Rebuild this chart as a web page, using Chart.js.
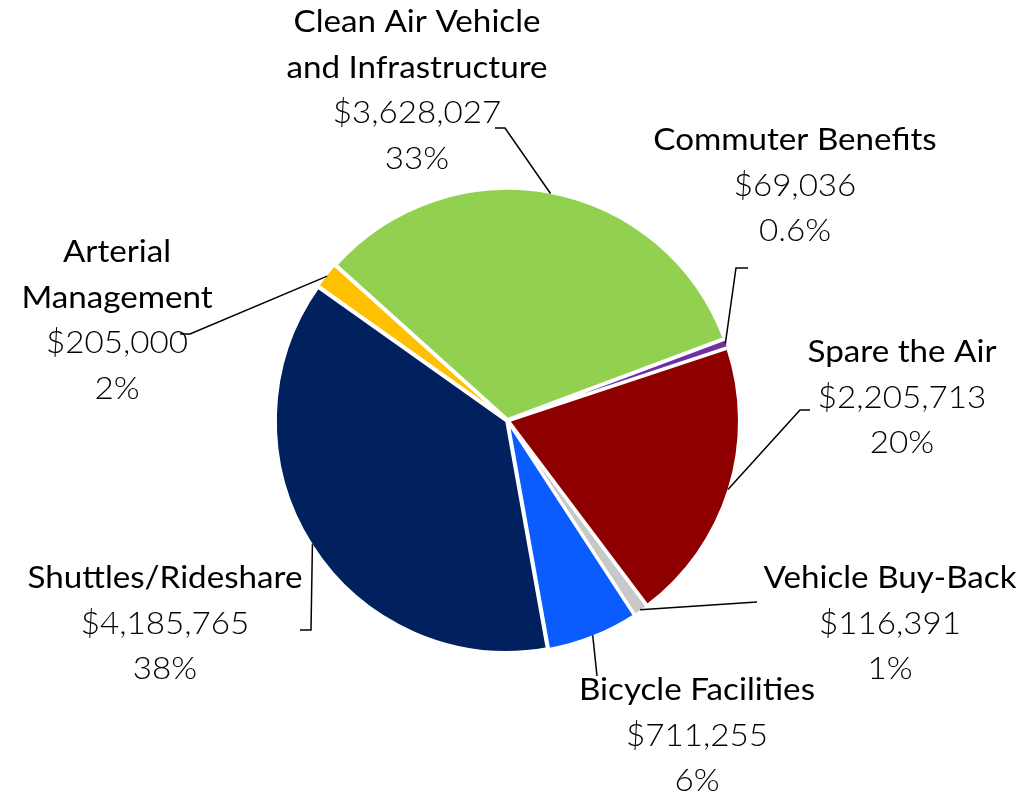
<!DOCTYPE html>
<html>
<head>
<meta charset="utf-8">
<script src="https://cdn.jsdelivr.net/npm/chart.js@4.4.1/dist/chart.umd.min.js"></script>
<style>
  html, body { margin: 0; padding: 0; background: #fff; }
  #wrap { width: 1025px; height: 801px; position: relative; }
</style>
</head>
<body>
<div id="wrap"><canvas id="pie"></canvas></div>
<script>
// data, in drawing order (clockwise, starting with Clean Air)
const labels = [
  ['Clean Air Vehicle', 'and Infrastructure'],
  ['Commuter Benefits'],
  ['Spare the Air'],
  ['Vehicle Buy-Back'],
  ['Bicycle Facilities'],
  ['Shuttles/Rideshare'],
  ['Arterial', 'Management'],
]
const amounts = [3628027, 69036, 2205713, 116391, 711255, 4185765, 205000]
const colors = ['#92D050', '#7030A0', '#8E0000', '#C8C8C8', '#0A5CFF', '#00205E', '#FFC000']

// label layout: text centre x, first line y, leader elbow and tail end
const labelLayout = [
  { x: 417, y: 22,  elbow: [505, 128], tail: [495, 128] },
  { x: 795, y: 140, elbow: [736, 268], tail: [748, 268] },
  { x: 902, y: 352, elbow: [800, 410], tail: [810, 410] },
  { x: 890, y: 578, elbow: [757, 602], tail: [757, 602] },
  { x: 697, y: 690, elbow: [597, 676], tail: [597, 676] },
  { x: 165, y: 578, elbow: [311, 630], tail: [300, 630] },
  { x: 117, y: 252, elbow: [190, 334], tail: [180, 334] },
]

const total = amounts.reduce((a, b) => a + b, 0)
const fmtMoney = (v) => '$' + v.toLocaleString('en-US')
const fmtPct = (v) => {
  const p = (v / total) * 100
  return (p < 1 ? p.toFixed(1) : Math.round(p)) + '%'
}

const LINE_H = 45.5
const NAME_FONT = '400 31px Lato, "Open Sans", sans-serif'
const VALUE_FONT = '300 31px Lato, "Open Sans", sans-serif'

function drawText(ctx, text, x, y, font) {
  ctx.save()
  ctx.font = font
  ctx.translate(x, y)
  ctx.scale(1.07, 1)
  ctx.fillText(text, 0, 0)
  ctx.restore()
}

const calloutPlugin = {
  id: 'callouts',
  afterDatasetsDraw(chart) {
    const ctx = chart.ctx
    const meta = chart.getDatasetMeta(0)
    ctx.save()
    ctx.fillStyle = '#000'
    ctx.strokeStyle = '#000'
    ctx.lineWidth = 1.5
    ctx.textAlign = 'center'
    ctx.textBaseline = 'middle'

    meta.data.forEach((arc, i) => {
      const lay = labelLayout[i]
      const { x, y, startAngle, endAngle, outerRadius } = arc.getProps(['x', 'y', 'startAngle', 'endAngle', 'outerRadius'], true)
      const mid = (startAngle + endAngle) / 2
      const ax = x + Math.cos(mid) * outerRadius
      const ay = y + Math.sin(mid) * outerRadius

      ctx.beginPath()
      ctx.moveTo(ax, ay)
      ctx.lineTo(lay.elbow[0], lay.elbow[1])
      ctx.lineTo(lay.tail[0], lay.tail[1])
      ctx.stroke()

      let ly = lay.y
      labels[i].forEach((line) => {
        drawText(ctx, line, lay.x, ly, NAME_FONT)
        ly += LINE_H
      })
      drawText(ctx, fmtMoney(amounts[i]), lay.x, ly, VALUE_FONT)
      ly += LINE_H
      drawText(ctx, fmtPct(amounts[i]), lay.x, ly, VALUE_FONT)
    })
    ctx.restore()
  },
}

new Chart(document.getElementById('pie'), {
  type: 'pie',
  data: {
    labels: labels.map((l) => l.join(' ')),
    datasets: [{
      data: amounts,
      backgroundColor: colors,
      borderColor: '#ffffff',
      borderWidth: 3,
      offset: 4,
    }],
  },
  options: {
    responsive: true,
    maintainAspectRatio: false,
    animation: false,
    rotation: -48,
    radius: 231,
    layout: { padding: { left: 0, right: 10, top: 40, bottom: 0 } },
    plugins: {
      legend: { display: false },
      tooltip: { enabled: false },
    },
  },
  plugins: [calloutPlugin],
})
</script>
</body>
</html>
